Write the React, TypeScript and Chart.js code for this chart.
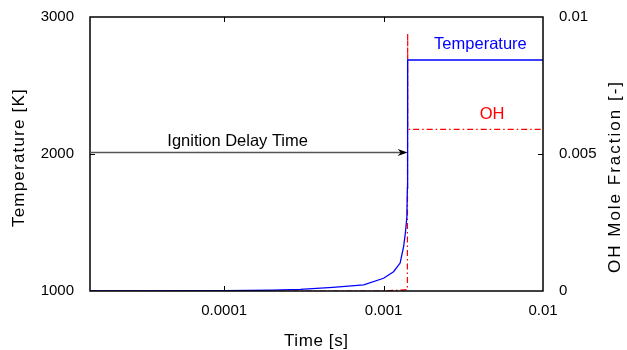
import React, { useEffect, useRef } from 'react';
import { Chart, registerables } from 'chart.js';

Chart.register(...registerables);

// ---- data ----
const tempTime = [1.44e-5, 3e-5, 1e-4, 2e-4, 3e-4, 4.8e-4, 7.5e-4, 1e-3, 1.155e-3, 1.27e-3, 1.335e-3, 1.37e-3, 1.4e-3, 1.41e-3, 1.414e-3, 1.416e-3, 1e-2];
const tempK = [1000, 1000, 1002, 1006, 1012, 1027, 1044, 1093, 1141, 1204, 1323, 1423, 1542, 1750, 2300, 2686, 2686];

const ohTime = [1.44e-5, 1e-3, 1.41e-3, 1.416e-3, 1.4165e-3, 1.417e-3, 1e-2];
const ohFrac = [0, 0, 0.00005, 0.0094, 0.0094, 0.0059, 0.0059];

const xTickValues = [0.0001, 0.001, 0.01];
const xTickLabels = ['0.0001', '0.001', '0.01'];
const tempTickValues = [1000, 2000, 3000];
const tempTickLabels = ['1000', '2000', '3000'];
const ohTickValues = [0, 0.005, 0.01];
const ohTickLabels = ['0', '0.005', '0.01'];

const ignitionTime = 1.416e-3;
const arrowTemp = 2015;

const FONT = '"Liberation Sans", Arial, Helvetica, sans-serif';

const overlay = {
  id: 'overlay',
  afterDatasetsDraw(chart: any) {
    const { ctx, chartArea, scales } = chart;
    const { left, right, top, bottom } = chartArea;
    const x = scales.x;
    const y = scales.y;
    const y1 = scales.y1;
    ctx.save();

    // frame
    ctx.strokeStyle = '#000';
    ctx.lineWidth = 1.5;
    ctx.strokeRect(left, top, right - left, bottom - top);

    // inward ticks
    ctx.lineWidth = 1;
    ctx.beginPath();
    for (const v of xTickValues) {
      const px = Math.round(x.getPixelForValue(v)) + 0.5;
      if (px > left + 2 && px < right - 2) {
        ctx.moveTo(px, bottom);
        ctx.lineTo(px, bottom - 5);
        ctx.moveTo(px, top);
        ctx.lineTo(px, top + 5);
      }
    }
    for (const v of tempTickValues) {
      const py = Math.round(y.getPixelForValue(v)) + 0.5;
      if (py > top + 2 && py < bottom - 2) {
        ctx.moveTo(left, py);
        ctx.lineTo(left + 5, py);
      }
    }
    for (const v of ohTickValues) {
      const py = Math.round(y1.getPixelForValue(v)) + 0.5;
      if (py > top + 2 && py < bottom - 2) {
        ctx.moveTo(right, py);
        ctx.lineTo(right - 5, py);
      }
    }
    ctx.stroke();

    // arrow
    const ay = Math.round(y.getPixelForValue(arrowTemp)) + 0.5;
    const ax1 = x.getPixelForValue(ignitionTime);
    ctx.strokeStyle = '#555';
    ctx.lineWidth = 1.5;
    ctx.beginPath();
    ctx.moveTo(left, ay);
    ctx.lineTo(ax1 - 6, ay);
    ctx.stroke();
    ctx.fillStyle = '#000';
    ctx.beginPath();
    ctx.moveTo(ax1, ay);
    ctx.lineTo(ax1 - 10, ay - 3.5);
    ctx.lineTo(ax1 - 7, ay);
    ctx.lineTo(ax1 - 10, ay + 3.5);
    ctx.closePath();
    ctx.fill();

    // annotation texts
    ctx.font = `16.5px ${FONT}`;
    ctx.textAlign = 'center';
    ctx.textBaseline = 'alphabetic';
    ctx.fillStyle = '#000';
    ctx.fillText('Ignition Delay Time', x.getPixelForValue(1.215e-4), y.getPixelForValue(2058));
    ctx.fillStyle = '#0000ff';
    ctx.fillText('Temperature', x.getPixelForValue(4.05e-3), y.getPixelForValue(2766));
    ctx.fillStyle = '#ff0000';
    ctx.fillText('OH', x.getPixelForValue(4.79e-3), y1.getPixelForValue(0.00627));

    // axis titles
    ctx.fillStyle = '#000';
    ctx.textAlign = 'left';
    ctx.font = `17px ${FONT}`;
    (ctx as any).letterSpacing = '0.6px';
    ctx.fillText('Time [s]', 284, 346);

    ctx.save();
    ctx.translate(24, 227);
    ctx.rotate(-Math.PI / 2);
    (ctx as any).letterSpacing = '1.2px';
    ctx.fillText('Temperature [K]', 0, 0);
    ctx.restore();

    ctx.save();
    ctx.translate(620, 273);
    ctx.rotate(-Math.PI / 2);
    (ctx as any).letterSpacing = '2px';
    ctx.fillText('OH Mole Fraction [-]', 0, 0);
    ctx.restore();

    ctx.restore();
  },
};

export default function App() {
  const ref = useRef<HTMLCanvasElement>(null);
  useEffect(() => {
    document.body.style.margin = '0';
    const tempData = tempTime.map((t, i) => ({ x: t, y: tempK[i] }));
    const ohData = ohTime.map((t, i) => ({ x: t, y: ohFrac[i] }));
    const tickFont = { family: FONT, size: 15 };
    const chart = new Chart(ref.current!, {
      type: 'line',
      data: {
        datasets: [
          {
            label: 'Temperature',
            data: tempData,
            yAxisID: 'y',
            borderColor: '#0000ff',
            borderWidth: 1.3,
            pointRadius: 0,
            tension: 0,
            fill: false,
          },
          {
            label: 'OH',
            data: ohData,
            yAxisID: 'y1',
            borderColor: '#ff0000',
            borderWidth: 1.2,
            borderDash: [6, 3, 1.5, 3],
            pointRadius: 0,
            tension: 0,
            fill: false,
          },
        ],
      },
      options: {
        responsive: false,
        animation: false,
        events: [],
        layout: { padding: { top: 17, left: 0, right: 0, bottom: 0 } },
        plugins: { legend: { display: false }, tooltip: { enabled: false } },
        scales: {
          x: {
            type: 'logarithmic',
            min: 1.44e-5,
            max: 0.01,
            grid: { display: false },
            border: { display: false },
            afterBuildTicks: (s: any) => {
              s.ticks = xTickValues.map((v) => ({ value: v }));
            },
            afterFit: (s: any) => {
              s.height = 59;
            },
            ticks: {
              autoSkip: false,
              maxRotation: 0,
              padding: 3,
              color: '#000',
              font: tickFont,
              callback: (v: any) => {
                const i = xTickValues.findIndex((t) => Math.abs(t - v) / t < 1e-6);
                return i >= 0 ? xTickLabels[i] : '';
              },
            },
          },
          y: {
            type: 'linear',
            position: 'left',
            min: 1000,
            max: 3000,
            grid: { display: false },
            border: { display: false },
            afterBuildTicks: (s: any) => {
              s.ticks = tempTickValues.map((v) => ({ value: v }));
            },
            afterFit: (s: any) => {
              s.width = 90;
            },
            ticks: {
              padding: 8,
              color: '#000',
              font: tickFont,
              callback: (v: any) => {
                const i = tempTickValues.indexOf(v);
                return i >= 0 ? tempTickLabels[i] : '';
              },
            },
          },
          y1: {
            type: 'linear',
            position: 'right',
            min: 0,
            max: 0.01,
            grid: { display: false },
            border: { display: false },
            afterBuildTicks: (s: any) => {
              s.ticks = ohTickValues.map((v) => ({ value: v }));
            },
            afterFit: (s: any) => {
              s.width = 84;
            },
            ticks: {
              padding: 8,
              color: '#000',
              font: tickFont,
              callback: (v: any) => {
                const i = ohTickValues.findIndex((t) => Math.abs(t - v) < 1e-9);
                return i >= 0 ? ohTickLabels[i] : '';
              },
            },
          },
        },
      },
      plugins: [overlay],
    });
    return () => chart.destroy();
  }, []);
  return (
    <div style={{ width: 627, height: 350 }}>
      <canvas ref={ref} width={627} height={350} style={{ display: 'block' }} />
    </div>
  );
}
